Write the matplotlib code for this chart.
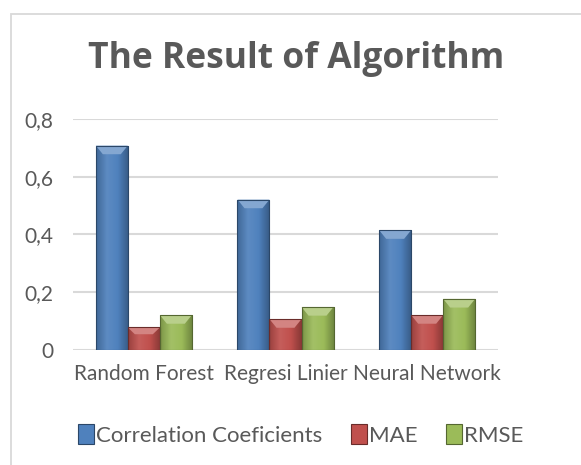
import matplotlib
matplotlib.use("Agg")
import matplotlib.pyplot as plt
import numpy as np
from matplotlib.colors import LinearSegmentedColormap, to_rgb
from matplotlib.patches import Polygon, Rectangle

categories = ["Random Forest", "Regresi Linier", "Neural Network"]
series_names = ["Correlation Coeficients", "MAE", "RMSE"]
corr = [0.708, 0.521, 0.415]
mae = [0.078, 0.107, 0.121]
rmse = [0.121, 0.149, 0.177]
y_ticks = [0, 0.2, 0.4, 0.6, 0.8]
y_tick_labels = ["0", "0,2", "0,4", "0,6", "0,8"]

colors = ["#4F81BD", "#C0504D", "#9BBB59"]
text_color = "#595959"
grid_color = "#D9D9D9"

plt.rcParams["font.family"] = ["Lato", "DejaVu Sans"]


def shade(c, f):
    r = np.array(to_rgb(c))
    if f >= 0:
        return tuple(r + (1 - r) * f)
    return tuple(r * (1 + f))


def bevel_bar(ax, rect, color):
    # soft-bevel look: horizontal gradient + lighter top facet
    x0, y0 = rect.get_x(), rect.get_y()
    w, h = rect.get_width(), rect.get_height()
    cmap = LinearSegmentedColormap.from_list(
        "b", [shade(color, -0.2), shade(color, 0.08), color, shade(color, -0.3)])
    grad = np.linspace(0, 1, 64).reshape(1, -1)
    im = ax.imshow(grad, cmap=cmap, extent=(x0, x0 + w, y0, y0 + h),
                   aspect="auto", zorder=2, interpolation="bicubic")
    im.set_clip_path(rect)
    dx = w * 0.22
    dy = min(0.03, h * 0.3)
    top = Polygon([(x0, y0 + h), (x0 + w, y0 + h), (x0 + w - dx, y0 + h - dy),
                   (x0 + dx, y0 + h - dy)], closed=True,
                  facecolor=shade(color, 0.3), edgecolor="none", zorder=3)
    ax.add_patch(top)
    rect.set_facecolor("none")
    rect.set_edgecolor(shade(color, -0.45))
    rect.set_linewidth(0.8)
    rect.set_zorder(4)


fig = plt.figure(figsize=(5.81, 4.65), dpi=100)
fig.patches.append(Rectangle((11 / 581, -0.01), 0.99, 1 - 14 / 465 + 0.01,
                             transform=fig.transFigure, fill=False,
                             edgecolor="#D9D9D9", linewidth=1.3))

ax = fig.add_axes([73 / 581, 1 - 350 / 465, (498 - 73) / 581, (350 - 119) / 465])
x = np.arange(len(categories))
width = 0.226
handles = []
for i, (vals, name, c) in enumerate(zip([corr, mae, rmse], series_names, colors)):
    bars = ax.bar(x + (i - 1) * width, vals, width, color=c, label=name, zorder=2)
    for r in bars:
        bevel_bar(ax, r, c)
    handles.append(Rectangle((0, 0), 1, 1, facecolor=c,
                             edgecolor=shade(c, -0.45), linewidth=0.8))

ax.set_xlim(-0.5, 2.5)
ax.set_ylim(0, 0.8)
ax.set_yticks(y_ticks)
ax.set_yticklabels(y_tick_labels)
ax.set_xticks(x)
ax.set_xticklabels(categories)
ax.grid(axis="y", color=grid_color, linewidth=1.5, zorder=0)
ax.set_axisbelow(True)
for s in ax.spines.values():
    s.set_visible(False)
ax.tick_params(axis="both", length=0, colors=text_color, labelsize=15)
ax.tick_params(axis="y", pad=14)
ax.tick_params(axis="x", pad=10)

fig.text(296 / 581, 1 - 59 / 465, "The Result of Algorithm", ha="center", va="center",
         fontsize=25.5, fontweight="bold", color=text_color,
         family=["Open Sans", "DejaVu Sans"])

fig.legend(handles, series_names, loc="center", bbox_to_anchor=(0.518, 1 - 435 / 465),
           ncol=3, frameon=False, fontsize=16, labelcolor=text_color,
           handlelength=0.7, handleheight=0.95, handletextpad=0.1, columnspacing=1.3)

fig.savefig("out.png", dpi=100)
